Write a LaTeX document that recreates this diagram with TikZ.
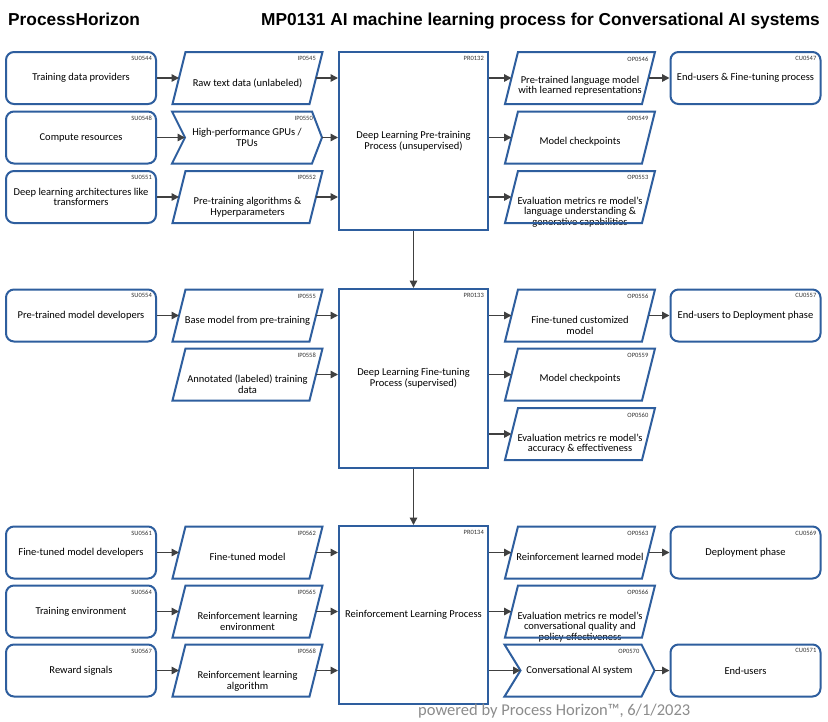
\documentclass[tikz,border=0pt]{standalone}
\usepackage{fontspec}
\setmainfont{Carlito}
\newfontfamily\titlefont{Liberation Sans}
\usetikzlibrary{arrows.meta,calc}
\definecolor{boxblue}{RGB}{46,94,158}
\definecolor{arrgray}{RGB}{64,64,64}
\definecolor{footgray}{RGB}{140,140,140}
\definecolor{idgray}{RGB}{50,50,50}
\newcommand\boxfont{\fontsize{10.5}{10.6}\selectfont}
\newcommand\idfont{\fontsize{6.5}{7}\selectfont}
\tikzset{
  frame/.style={draw=boxblue, line width=2pt, line join=miter},
  slot/.style={minimum width=#1, minimum height=52pt, inner sep=0pt, outer sep=0pt},
  rbox/.style={draw=boxblue, line width=2pt, rounded corners=8pt, minimum width=150pt,
    minimum height=52pt, align=center, font=\boxfont, inner sep=1pt},
  prbox/.style={draw=boxblue, line width=2pt, minimum width=149pt, align=center,
    font=\boxfont, inner sep=1pt},
  txt/.style={align=center, font=\boxfont, inner sep=0pt},
  idlab/.style={anchor=north east, font=\idfont, text=idgray, inner sep=0pt},
  arr/.style={draw=arrgray, line width=1.5pt, -{Triangle[length=7.5pt,width=7.5pt]}},
  ttl/.style={inner sep=0pt, font=\titlefont\bfseries\fontsize{17.3}{20}\selectfont},
}
% rounded box: name, x, y, id, text
\newcommand\rbx[5]{%
  \node[rbox] (#1) at (#2,#3) {#5};
  \node[idlab] at ($(#1.north east)+(-5,5)$) {#4};
}
% parallelogram: name, x, y, id, text, text offset
\newcommand\pbx[6]{%
  \node[slot=150pt] (#1) at (#2,#3) {};
  \node[txt] at ($(#1.center)+(0,#6)$) {#5};
  \draw[frame] ($(#1.north west)+(13,0)$) -- (#1.north east) -- ($(#1.south east)+(-13,0)$) -- (#1.south west) -- cycle;
  \node[idlab] at ($(#1.north east)+(-6.5,4.5)$) {#4};
  \coordinate (#1-in) at ($(#1.west)+(6.5,0)$);
  \coordinate (#1-out) at ($(#1.east)+(-6.5,0)$);
}
% chevron: name, x, y, id, text, notch, tip, id offset
\newcommand\cbx[8]{%
  \node[slot=150pt, align=center, font=\boxfont] (#1) at (#2,#3) {#5};
  \draw[frame] (#1.north west) -- ($(#1.north east)+(-#7,0)$) -- (#1.east) -- ($(#1.south east)+(-#7,0)$) -- (#1.south west) -- ($(#1.west)+(#6,0)$) -- cycle;
  \node[idlab] at ($(#1.north east)+(-#8,4.5)$) {#4};
  \coordinate (#1-in) at ($(#1.west)+(#6,0)$);
  \coordinate (#1-out) at (#1.east);
}
\begin{document}
\begin{tikzpicture}[x=1pt,y=-1pt]
\useasboundingbox[fill=white] (0,0) rectangle (828,721);
% titles
\node[ttl, anchor=base west] (t1) at (8,25) {ProcessHorizon};
\node[ttl, anchor=base east] (t2) at (820,25) {MP0131 AI machine learning process for Conversational AI systems};

% ---------- group 1 ----------
\rbx{su0544}{81}{78}{SU0544}{Training data providers}
\rbx{su0548}{81}{137.5}{SU0548}{Compute resources}
\rbx{su0551}{81}{197}{SU0551}{Deep learning architectures like\\transformers}
\pbx{ip0545}{247.5}{78}{IP0545}{Raw text data (unlabeled)}{5}
\cbx{ip0550}{247}{137.5}{IP0550}{High-performance GPUs /\\TPUs}{13}{10}{9}
\pbx{ip0552}{247.5}{197}{IP0552}{Pre-training algorithms \&\\Hyperparameters}{10}
\node[prbox, minimum height=178pt] (pr0132) at (413.5,141) {Deep Learning Pre-training\\Process (unsupervised)};
\node[idlab] at ($(pr0132.north east)+(-5,5)$) {PR0132};
\pbx{op0546}{580}{78}{OP0546}{Pre-trained language model\\with learned representations}{7.5}
\pbx{op0549}{580}{137.5}{OP0549}{Model checkpoints}{4.5}
\pbx{op0553}{580}{197}{OP0553}{Evaluation metrics re model's\\language understanding \&\\generative capabilities}{15}
\rbx{cu0547}{745.5}{78}{CU0547}{End-users \& Fine-tuning process}

\draw[arr] (su0544.east) -- (ip0545-in);
\draw[arr] (su0548.east) -- (ip0550-in);
\draw[arr] (su0551.east) -- (ip0552-in);
\draw[arr] (ip0545-out) -- (ip0545-out -| pr0132.west);
\draw[arr] (ip0550-out) -- (ip0550-out -| pr0132.west);
\draw[arr] (ip0552-out) -- (ip0552-out -| pr0132.west);
\draw[arr] (op0546-in -| pr0132.east) -- (op0546-in);
\draw[arr] (op0549-in -| pr0132.east) -- (op0549-in);
\draw[arr] (op0553-in -| pr0132.east) -- (op0553-in);
\draw[arr] (op0546-out) -- (op0546-out -| cu0547.west);

% ---------- group 2 ----------
\rbx{su0554}{81}{315.5}{SU0554}{Pre-trained model developers}
\pbx{ip0555}{247.5}{315.5}{IP0555}{Base model from pre-training}{5}
\pbx{ip0558}{247.5}{374.5}{IP0558}{Annotated (labeled) training\\data}{9.5}
\node[prbox, minimum height=179pt] (pr0133) at (413.5,378.5) {Deep Learning Fine-tuning\\Process (supervised)};
\node[idlab] at ($(pr0133.north east)+(-5,5)$) {PR0133};
\pbx{op0556}{580}{315.5}{OP0556}{Fine-tuned customized\\model}{10}
\pbx{op0559}{580}{374.5}{OP0559}{Model checkpoints}{4.5}
\pbx{op0560}{580}{434}{OP0560}{Evaluation metrics re model's\\accuracy \& effectiveness}{9.5}
\rbx{cu0557}{745.5}{315.5}{CU0557}{End-users to Deployment phase}

\draw[arr] (su0554.east) -- (ip0555-in);
\draw[arr] (ip0555-out) -- (ip0555-out -| pr0133.west);
\draw[arr] (ip0558-out) -- (ip0558-out -| pr0133.west);
\draw[arr] (op0556-in -| pr0133.east) -- (op0556-in);
\draw[arr] (op0559-in -| pr0133.east) -- (op0559-in);
\draw[arr] (op0560-in -| pr0133.east) -- (op0560-in);
\draw[arr] (op0556-out) -- (op0556-out -| cu0557.west);

% ---------- group 3 ----------
\rbx{su0561}{81}{552.5}{SU0561}{Fine-tuned model developers}
\rbx{su0564}{81}{611.5}{SU0564}{Training environment}
\rbx{su0567}{81}{670.5}{SU0567}{Reward signals}
\pbx{ip0562}{247.5}{552.5}{IP0562}{Fine-tuned model}{4}
\pbx{ip0565}{247.5}{611.5}{IP0565}{Reinforcement learning\\environment}{10}
\pbx{ip0568}{247.5}{670.5}{IP0568}{Reinforcement learning\\algorithm}{10.5}
\node[prbox, minimum height=178pt] (pr0134) at (413.5,615) {Reinforcement Learning Process};
\node[idlab] at ($(pr0134.north east)+(-5,5)$) {PR0134};
\pbx{op0563}{580}{552.5}{OP0563}{Reinforcement learned model}{4}
\pbx{op0566}{580}{611.5}{OP0566}{Evaluation metrics re model's\\conversational quality and\\policy effectiveness}{15.5}
\cbx{op0570}{579.5}{670.5}{OP0570}{Conversational AI system}{16}{13}{15}
\rbx{cu0569}{745.5}{552.5}{CU0569}{Deployment phase}
\rbx{cu0571}{745.5}{670.5}{CU0571}{End-users}

\draw[arr] (su0561.east) -- (ip0562-in);
\draw[arr] (su0564.east) -- (ip0565-in);
\draw[arr] (su0567.east) -- (ip0568-in);
\draw[arr] (ip0562-out) -- (ip0562-out -| pr0134.west);
\draw[arr] (ip0565-out) -- (ip0565-out -| pr0134.west);
\draw[arr] (ip0568-out) -- (ip0568-out -| pr0134.west);
\draw[arr] (op0563-in -| pr0134.east) -- (op0563-in);
\draw[arr] (op0566-in -| pr0134.east) -- (op0566-in);
\draw[arr] (op0570-in -| pr0134.east) -- (op0570-in);
\draw[arr] (op0563-out) -- (op0563-out -| cu0569.west);
\draw[arr] (op0570-out) -- (op0570-out -| cu0571.west);

% ---------- between groups ----------
\draw[arr] (pr0132.south) -- (pr0133.north);
\draw[arr] (pr0133.south) -- (pr0134.north);

% footer
\node[anchor=base west, inner sep=0pt, text=footgray, font=\fontsize{16.5}{18}\selectfont] (foot) at (418,715) {powered by Process Horizon™, 6/1/2023};
\end{tikzpicture}
\end{document}
